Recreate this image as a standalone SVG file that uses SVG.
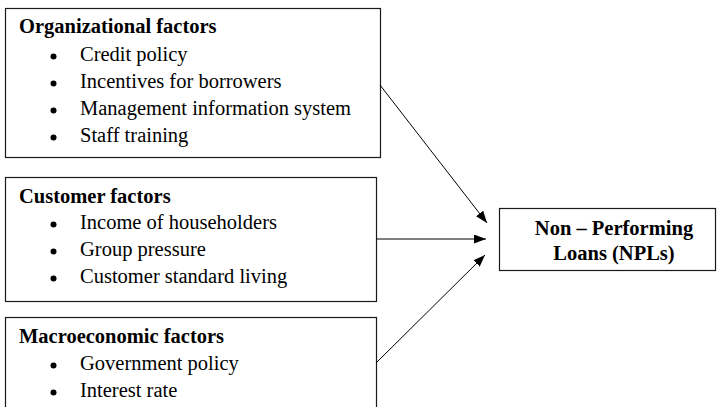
<svg xmlns="http://www.w3.org/2000/svg" width="720" height="407" viewBox="0 0 720 407">
<style>
.box{fill:#fff;stroke:#1a1a1a;stroke-width:1.2}
.t{font-family:"Liberation Serif","Times New Roman",serif;font-size:20.5px;fill:#000}
.b{font-weight:bold}
.dot{fill:#000}
.conn{stroke:#000;stroke-width:1;fill:none;marker-end:url(#ah)}
</style>
<defs>
<marker id="ah" markerUnits="userSpaceOnUse" markerWidth="13" markerHeight="10" refX="12" refY="4.5" orient="auto">
<path d="M0,0 L12,4.5 L0,9 z" fill="#000"/>
</marker>
</defs>
<rect width="720" height="407" fill="#fff"/>
<g id="org">
<rect class="box" x="5.5" y="8.5" width="375" height="149"/>
<text class="t b" x="19" y="33">Organizational factors</text>
<circle class="dot" cx="53.5" cy="56.5" r="3"/><text class="t" x="80" y="61">Credit policy</text>
<circle class="dot" cx="53.5" cy="83.5" r="3"/><text class="t" x="80" y="88">Incentives for borrowers</text>
<circle class="dot" cx="53.5" cy="110.5" r="3"/><text class="t" x="80" y="115">Management information system</text>
<circle class="dot" cx="53.5" cy="137.5" r="3"/><text class="t" x="80" y="142">Staff training</text>
</g>
<g id="cust">
<rect class="box" x="5.5" y="177.5" width="371" height="124"/>
<text class="t b" x="19" y="203">Customer factors</text>
<circle class="dot" cx="53.5" cy="224.5" r="3"/><text class="t" x="80" y="229">Income of householders</text>
<circle class="dot" cx="53.5" cy="251.5" r="3"/><text class="t" x="80" y="256">Group pressure</text>
<circle class="dot" cx="53.5" cy="278.5" r="3"/><text class="t" x="80" y="283">Customer standard living</text>
</g>
<g id="macro">
<rect class="box" x="5.5" y="317.5" width="371" height="120"/>
<text class="t b" x="19" y="343">Macroeconomic factors</text>
<circle class="dot" cx="53.5" cy="365.5" r="3"/><text class="t" x="80" y="370">Government policy</text>
<circle class="dot" cx="53.5" cy="392.5" r="3"/><text class="t" x="80" y="397">Interest rate</text>
</g>
<g id="npl">
<rect class="box" x="499.5" y="208.5" width="216" height="62"/>
<text class="t b" x="614" y="235" text-anchor="middle">Non – Performing</text>
<text class="t b" x="614" y="260" text-anchor="middle">Loans (NPLs)</text>
</g>
<g id="connectors">
<line class="conn" x1="380" y1="85" x2="487" y2="223"/>
<line class="conn" x1="376" y1="239" x2="486" y2="239"/>
<line class="conn" x1="376" y1="363" x2="485" y2="255"/>
</g>
</svg>
